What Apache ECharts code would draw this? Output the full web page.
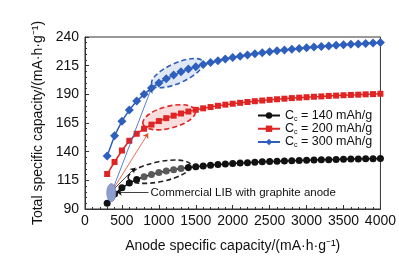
<!DOCTYPE html>
<html>
<head>
<meta charset="utf-8">
<script src="https://cdn.jsdelivr.net/npm/echarts@6/dist/echarts.min.js"></script>
<style>
html, body { margin: 0; padding: 0; background: #fff; }
#chart { width: 399px; height: 264px; }
</style>
</head>
<body>
<div id="chart"></div>
<script>
// anode specific capacity (mAh/g)
const anodeCap = [300, 400, 500, 600, 700, 800, 900, 1000, 1100, 1200, 1300, 1400, 1500, 1600, 1700, 1800, 1900, 2000, 2100, 2200,
    2300, 2400, 2500, 2600, 2700, 2800, 2900, 3000, 3100, 3200, 3300, 3400, 3500, 3600, 3700, 3800, 3900, 4000];

// total specific capacity for each cathode capacity
const cap140 = [95, 103, 108.5, 112.6, 115.7, 118.2, 120.1, 121.8, 123.1, 124.3, 125.3, 126.2, 126.9, 127.6, 128.2, 128.7, 129.2, 129.7, 130.1, 130.4,
    130.8, 131.1, 131.4, 131.6, 131.9, 132.1, 132.3, 132.5, 132.7, 132.9, 133.0, 133.2, 133.4, 133.5, 133.6, 133.8, 133.9, 134.0];
const cap200 = [120.5, 131, 141, 149.5, 155.6, 160.0, 163.6, 166.7, 169.2, 171.4, 173.3, 175.0, 176.5, 177.8, 178.9, 180.0, 181.0, 181.8, 182.6, 183.3,
    184.0, 184.6, 185.2, 185.7, 186.2, 186.7, 187.1, 187.5, 187.9, 188.2, 188.6, 188.9, 189.2, 189.5, 189.7, 190.0, 190.2, 190.5];
const cap300 = [136.3, 153.8, 166.6, 176.4, 184.1, 190.0, 195.5, 199.9, 203.6, 206.8, 209.6, 212.0, 214.1, 216.1, 217.8, 219.3, 220.8, 222.1, 223.3, 224.3,
    225.3, 226.2, 227.1, 227.9, 228.7, 229.4, 230.0, 230.6, 231.2, 231.7, 232.2, 232.7, 233.2, 233.6, 234.0, 234.4, 234.8, 235.1];

// points of the 140 curve that are shown greyed inside the dashed ellipse
const greyAnode = [800, 900, 1000, 1100, 1200, 1300];

const legendNames = ['140', '200', '300'];

// commercial LIB point and where its arrows go (data coords)
const commercial = [370, 106];
const arrowEnds = [[900, 195.5], [855, 156], [680, 126]];
const labelArrow = [[860, 104.5], [430, 104.5]];

const chart = echarts.init(document.getElementById('chart'));

function pairs(ys) {
    return anodeCap.map((x, i) => [x, ys[i]]);
}

const blackData = anodeCap.map((x, i) => {
    if (greyAnode.indexOf(x) >= 0) {
        return { value: [x, cap140[i]], itemStyle: { color: '#5a5a5a' } };
    }
    return [x, cap140[i]];
});

const font = 'Liberation Sans, Arial, sans-serif';

const option = {
    animation: false,
    grid: {
        left: 85, right: 18, top: 37, bottom: 55,
        show: true, borderColor: '#333', borderWidth: 1
    },
    legend: {
        data: legendNames,
        orient: 'vertical',
        left: 252, top: 104,
        itemWidth: 22, itemHeight: 8, itemGap: 0,
        formatter: name => '{c|C}{s|c}{t| = ' + name + ' mAh/g}',
        textStyle: {
            fontFamily: font,
            rich: {
                c: { fontSize: 12.5, lineHeight: 13.5, color: '#111', fontFamily: font },
                s: { fontSize: 7, lineHeight: 6, verticalAlign: 'bottom', color: '#111', fontFamily: font },
                t: { fontSize: 12.5, lineHeight: 13.5, color: '#111', fontFamily: font }
            }
        }
    },
    xAxis: {
        type: 'value',
        min: 0, max: 4000, interval: 500,
        name: 'Anode specific capacity/(mA·h·g⁻¹)',
        nameLocation: 'middle', nameGap: 30,
        nameTextStyle: { fontFamily: font, fontSize: 14, color: '#111' },
        axisLine: { lineStyle: { color: '#333', width: 1 } },
        axisTick: { inside: true, length: 4, lineStyle: { color: '#333' } },
        minorTick: { show: true, splitNumber: 5, length: 2, lineStyle: { color: '#333' } },
        splitLine: { show: false },
        axisLabel: { fontFamily: font, fontSize: 14, color: '#111', margin: 5, formatter: v => String(v) }
    },
    yAxis: {
        type: 'value',
        min: 90, max: 240, interval: 25,
        name: 'Total specific capacity/(mA·h·g⁻¹)',
        nameLocation: 'middle', nameGap: 30,
        nameTextStyle: { fontFamily: font, fontSize: 14, color: '#111' },
        axisLine: { lineStyle: { color: '#333', width: 1 } },
        axisTick: { inside: true, length: 4, lineStyle: { color: '#333' } },
        minorTick: { show: true, splitNumber: 5, length: 2, lineStyle: { color: '#333' } },
        splitLine: { show: false },
        axisLabel: { fontFamily: font, fontSize: 14, color: '#111', margin: 6 }
    },
    series: [
        {
            name: '140', type: 'line', data: blackData,
            symbol: 'circle', symbolSize: 7,
            itemStyle: { color: '#111' },
            lineStyle: { color: '#111', width: 1.5 }, z: 3
        },
        {
            name: '200', type: 'line', data: pairs(cap200),
            symbol: 'rect', symbolSize: 6,
            itemStyle: { color: '#e02424' },
            lineStyle: { color: '#e02424', width: 1.5 }, z: 3
        },
        {
            name: '300', type: 'line', data: pairs(cap300),
            symbol: 'diamond', symbolSize: 9,
            itemStyle: { color: '#2f5fbd' },
            lineStyle: { color: '#2f5fbd', width: 1.5 }, z: 3
        },
        {
            name: 'arrows', type: 'lines', coordinateSystem: 'cartesian2d',
            symbol: ['none', 'arrow'], symbolSize: 5, z: 4,
            data: [
                { coords: [commercial, arrowEnds[0]], lineStyle: { color: '#2f5fbd', width: 0.8 } },
                { coords: [commercial, arrowEnds[1]], lineStyle: { color: '#e24a2a', width: 0.8 } },
                { coords: [commercial, arrowEnds[2]], lineStyle: { color: '#111', width: 0.8 } },
                { coords: labelArrow, lineStyle: { color: '#111', width: 0.8 } }
            ],
            lineStyle: { opacity: 1, curveness: 0 }
        }
    ]
};

chart.setOption(option);

// dashed ellipses and the commercial marker, placed from data coords
function px(p) { return chart.convertToPixel({ gridIndex: 0 }, p); }

const ellipses = [
    { at: [1250, 208.5], rx: 28, ry: 10, rot: 0.42, stroke: '#2f5fbd', fill: 'rgba(47,95,189,0.15)' },
    { at: [1140, 170], rx: 27, ry: 11, rot: 0.25, stroke: '#e02424', fill: 'rgba(224,36,36,0.15)' },
    { at: [1010, 122.5], rx: 32, ry: 10, rot: 0.2, stroke: '#222', fill: 'rgba(0,0,0,0)' }
];

const graphics = ellipses.map(e => {
    const c = px(e.at);
    return {
        type: 'ellipse', x: c[0], y: c[1], rotation: e.rot, z: 2,
        shape: { cx: 0, cy: 0, rx: e.rx, ry: e.ry },
        style: { fill: e.fill, stroke: e.stroke, lineWidth: 1.6, lineDash: [5, 3] }
    };
});

const cm = px(commercial);
graphics.push({
    type: 'ellipse', x: cm[0] - 1, y: cm[1] + 2, z: 5,
    shape: { cx: 0, cy: 0, rx: 4.5, ry: 9 },
    style: { fill: '#8d9fd0', stroke: '#7283b8', lineWidth: 0.8 }
});
const lb = px(labelArrow[0]);
graphics.push({
    type: 'text', x: lb[0] + 2, y: lb[1], z: 5,
    style: { text: 'Commercial LIB with graphite anode', fontFamily: font, fontSize: 11.5, fill: '#111', verticalAlign: 'middle' }
});

chart.setOption({ graphic: graphics });
</script>
</body>
</html>
